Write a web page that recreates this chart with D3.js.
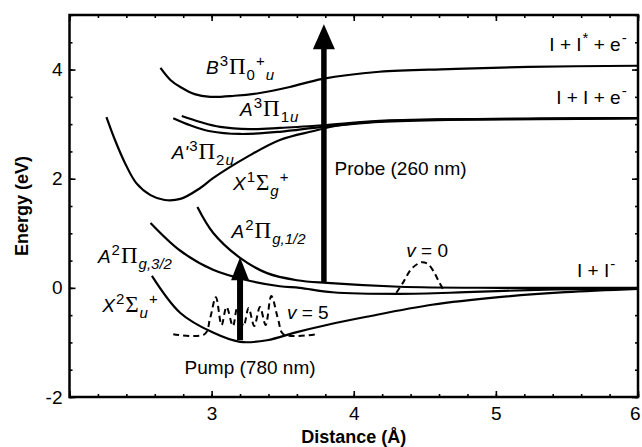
<!DOCTYPE html>
<meta charset="utf-8">
<style>
  body { margin: 0; background: #fff; }
  svg text { font-family: "Liberation Sans", Arial, sans-serif; fill: #000; }
</style>
<script src="https://d3js.org/d3.v7.min.js"></script>
<div id="chart"></div>
<script>
// potential energy curves, each point is [distance (Å), energy (eV)]
var curveB = [[2.64,4.03],[2.71,3.81],[2.78,3.68],[2.88,3.55],[2.99,3.50],[3.16,3.52],[3.34,3.57],[3.55,3.68],[3.78,3.83],[4.18,3.96],[4.67,4.01],[5.23,4.05],[6.0,4.07]];
var curveA1u = [[2.79,3.15],[2.92,3.04],[3.06,2.95],[3.27,2.91],[3.48,2.93],[3.78,2.98],[4.18,3.06],[4.67,3.09],[5.30,3.10],[6.0,3.11]];
var curveA2u = [[2.73,3.11],[2.85,2.98],[2.99,2.87],[3.20,2.82],[3.48,2.86],[3.78,2.95],[4.18,3.04],[4.67,3.08],[5.30,3.09],[6.0,3.11]];
var curveX1g = [[2.26,3.13],[2.32,2.71],[2.39,2.29],[2.47,1.92],[2.57,1.70],[2.67,1.61],[2.78,1.63],[2.92,1.83],[3.01,2.01],[3.25,2.40],[3.48,2.71],[3.71,2.87],[3.90,2.98],[4.18,3.05],[4.67,3.09],[5.30,3.10],[6.0,3.11]];
var curveA12 = [[2.90,1.48],[3.01,1.01],[3.20,0.55],[3.39,0.27],[3.60,0.14],[3.81,0.09],[4.32,0.02],[5.02,0.0],[6.0,0.0]];
var curveA32 = [[2.57,1.19],[2.78,0.68],[3.01,0.33],[3.25,0.14],[3.48,0.03],[3.62,0.0],[3.85,-0.08],[4.32,-0.11],[4.79,-0.08],[5.23,-0.04],[5.70,-0.02],[6.0,-0.01]];
var curveX2u = [[2.58,0.22],[2.78,-0.46],[3.01,-0.82],[3.20,-0.99],[3.39,-0.96],[3.60,-0.81],[3.81,-0.68],[4.09,-0.53],[4.55,-0.31],[5.02,-0.17],[5.49,-0.08],[6.0,-0.02]];

// vibrational wavepackets (dashed)
var waveV5 = [[2.73,-0.85],[2.95,-0.85],[2.99,-0.55],[3.03,-0.17],[3.07,-0.68],[3.105,-0.35],[3.15,-0.70],[3.18,-0.37],[3.225,-0.70],[3.26,-0.37],[3.30,-0.70],[3.34,-0.35],[3.38,-0.68],[3.42,-0.15],[3.47,-0.60],[3.505,-0.85],[3.74,-0.85]];
var waveV0 = [[4.30,-0.09],[4.35,0.11],[4.40,0.33],[4.45,0.44],[4.48,0.47],[4.52,0.44],[4.56,0.31],[4.60,0.11],[4.64,-0.08]];

// arrows: [distance, energy from, energy to]
var pumpArrow = [3.20, -0.96, 0.56];
var probeArrow = [3.79, 0.10, 4.83];

// ticks
var xMajor = [2, 3, 4, 5, 6];
var xLabels = [3, 4, 5, 6];
var yMajor = [-2, 0, 2, 4];
var xMinor = d3.range(2, 6.001, 0.2);
var yMinor = d3.range(-2, 5.001, 0.5);

// labels: [distance, energy, parts, anchor]
var labels = [
  [2.96, 3.92, [["B","i"],["3","sup"],["\u03A0","g"],["0","sub"],["+","sup"],["u","subi"]]],
  [3.20, 3.15, [["A","i"],["3","sup"],["\u03A0","g"],["1","sub"],["u","subi"]]],
  [2.72, 2.37, [["A'","i"],["3","sup"],["\u03A0","g"],["2","sub"],["u","subi"]]],
  [3.15, 1.79, [["X","i"],["1","sup"],["\u03A3","g"],["g","subi"],["+","sup"]]],
  [3.865, 2.07, [["Probe (260 nm)","r"]]],
  [3.14, 0.91, [["A","i"],["2","sup"],["\u03A0","g"],["g,1/2","subi"]]],
  [2.20, 0.455, [["A","i"],["2","sup"],["\u03A0","g"],["g,3/2","subi"]]],
  [2.23, -0.44, [["X","i"],["2","sup"],["\u03A3","g"],["u","subi"],["+","sup"]]],
  [3.53, -0.57, [["v","i"],[" = 5","r"]]],
  [4.37, 0.565, [["v","i"],[" = 0","r"]]],
  [2.81, -1.58, [["Pump (780 nm)","r"]]],
  [5.92, 4.34, [["I + I","r"],["*","sup"],[" + e","r"],["-","sup"]], "end"],
  [5.92, 3.37, [["I + I + e","r"],["-","sup"]], "end"],
  [5.84, 0.20, [["I + I","r"],["-","sup"]], "end"]
];

var W = 642, H = 447;
var x = d3.scaleLinear().domain([2, 6]).range([69.5, 638]);
var y = d3.scaleLinear().domain([-2, 5]).range([397, 15]);

var svg = d3.select("#chart").append("svg").attr("width", W).attr("height", H);

// axes with inward ticks on all four sides
function tickAxis(axisFn, scale, values, size, transform, labelled, pad) {
  var a = axisFn(scale).tickValues(values).tickSizeInner(-size).tickSizeOuter(0).tickPadding(pad || 8);
  a.tickFormat(labelled ? function (d) { return labelled.indexOf(d) >= 0 ? String(d) : ""; } : function () { return ""; });
  var g = svg.append("g").attr("transform", transform).call(a);
  g.select(".domain").remove();
  g.selectAll("line").attr("stroke", "#000").attr("stroke-width", 1.6);
  g.selectAll("text").attr("font-size", 19).attr("font-family", "Liberation Sans, Arial, sans-serif").attr("fill", "#000");
  return g;
}
tickAxis(d3.axisBottom, x, xMinor, 3, "translate(0,397)");
var xg = tickAxis(d3.axisBottom, x, xMajor, 6, "translate(0,397)", xLabels, 10);
// keep the last label inside the page
xg.selectAll("text").filter(function (d) { return d == 6; }).attr("text-anchor", "end").attr("dx", 2);
tickAxis(d3.axisTop, x, xMinor, 3, "translate(0,15)");
tickAxis(d3.axisTop, x, xMajor, 6, "translate(0,15)");
tickAxis(d3.axisLeft, y, yMinor, 3, "translate(69.5,0)");
tickAxis(d3.axisLeft, y, yMajor, 6, "translate(69.5,0)", yMajor, 7);
tickAxis(d3.axisRight, y, yMinor, 3, "translate(638,0)");
tickAxis(d3.axisRight, y, yMajor, 6, "translate(638,0)");

svg.append("rect")
  .attr("x", x(2)).attr("y", y(5))
  .attr("width", x(6) - x(2)).attr("height", y(-2) - y(5))
  .attr("fill", "none").attr("stroke", "#000").attr("stroke-width", 2.5);

// axis titles
svg.append("text")
  .attr("transform", "translate(28," + ((y(5) + y(-2)) / 2) + ") rotate(-90)")
  .attr("text-anchor", "middle").attr("font-size", 18).attr("font-weight", "bold")
  .text("Energy (eV)");
svg.append("text")
  .attr("x", x(4)).attr("y", 443)
  .attr("text-anchor", "middle").attr("font-size", 18).attr("font-weight", "bold")
  .text("Distance (\u00C5)");

var line = d3.line()
  .x(function (d) { return x(d[0]); })
  .y(function (d) { return y(d[1]); })
  .curve(d3.curveCatmullRom.alpha(0.5));

var curves = [curveB, curveA1u, curveA2u, curveX1g, curveA12, curveA32, curveX2u];
svg.selectAll("path.pec")
  .data(curves)
  .enter()
  .append("path")
  .attr("class", "pec")
  .attr("d", line)
  .attr("fill", "none")
  .attr("stroke", "#000")
  .attr("stroke-width", 2.2);

svg.selectAll("path.wave")
  .data([waveV5, waveV0])
  .enter()
  .append("path")
  .attr("class", "wave")
  .attr("d", line)
  .attr("fill", "none")
  .attr("stroke", "#000")
  .attr("stroke-width", 2)
  .attr("stroke-dasharray", "6,4");

// arrows
function arrow(a, shaftW, headW, headL) {
  var ax = x(a[0]), y0 = y(a[1]), y1 = y(a[2]);
  svg.append("line")
    .attr("x1", ax).attr("x2", ax)
    .attr("y1", y0).attr("y2", y1 + headL - 1)
    .attr("stroke", "#000").attr("stroke-width", shaftW);
  svg.append("path")
    .attr("d", "M" + (ax - headW / 2) + "," + (y1 + headL) + "L" + ax + "," + y1 + "L" + (ax + headW / 2) + "," + (y1 + headL) + "Z")
    .attr("fill", "#000");
}
arrow(pumpArrow, 6, 18, 23);
arrow(probeArrow, 5.5, 22, 25);

// state labels with sub/superscripts
function label(d) {
  var t = svg.append("text")
    .attr("x", x(d[0])).attr("y", y(d[1]))
    .attr("font-size", 19)
    .attr("text-anchor", d[3] || "start");
  var cur = 0;
  d[2].forEach(function (p) {
    var s = p[1];
    var off = s.indexOf("sup") == 0 ? -8 : s.indexOf("sub") == 0 ? 6 : 0;
    var ts = t.append("tspan").attr("dy", off - cur).text(p[0]);
    cur = off;
    if (off != 0) ts.attr("font-size", 15).attr("dx", 1);
    if (s == "i" || s == "subi") ts.attr("font-style", "italic");
    if (s == "g") ts.attr("font-family", "Liberation Serif, serif").attr("font-size", 23).attr("dx", 1);
  });
}
labels.forEach(label);
</script>
